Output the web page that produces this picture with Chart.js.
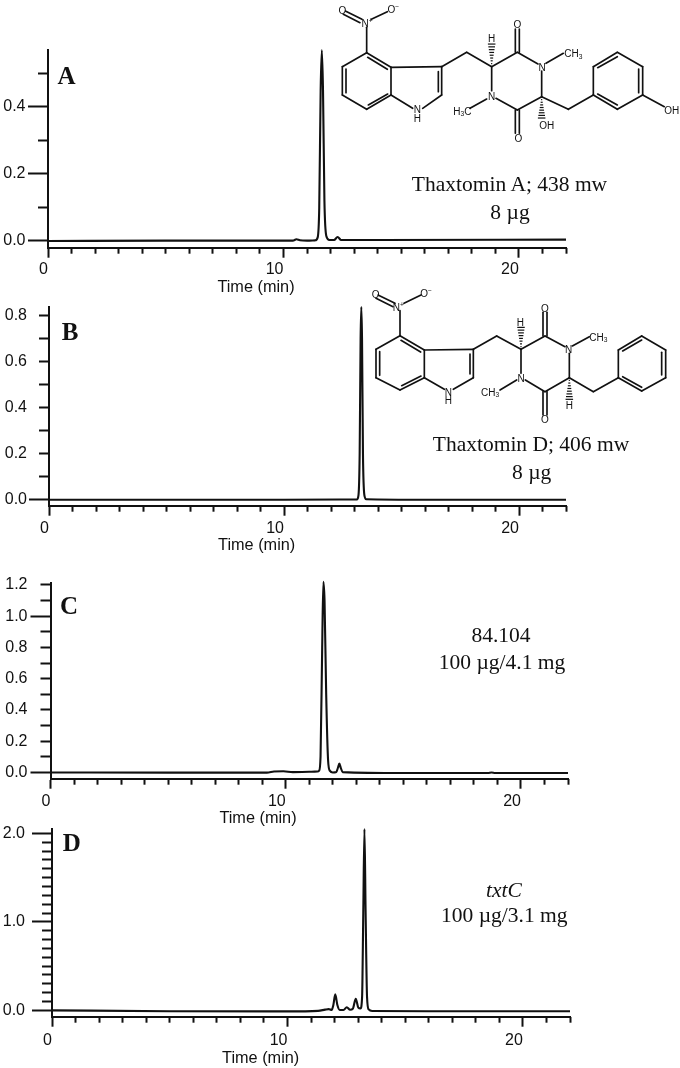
<!DOCTYPE html>
<html>
<head>
<meta charset="utf-8">
<title>Thaxtomin HPLC traces</title>
<script src="https://cdn.jsdelivr.net/npm/chart.js@4/dist/chart.umd.min.js"></script>
<style>
    html, body { margin: 0; padding: 0; background: #fff; overflow: hidden; }
    #page { position: relative; width: 680px; height: 1068px; }
    canvas { position: absolute; left: 0; }
    .note { position: absolute; white-space: nowrap; line-height: 1; color: #111; transform: translate(-50%, -50%); }
    .serif { font-family: "Liberation Serif", serif; font-size: 21.5px; }
    .letter { font-family: "Liberation Serif", serif; font-size: 25px; font-weight: bold; }
    .axisname { font-family: "Liberation Sans", sans-serif; font-size: 16.3px; }
    svg { position: absolute; }
    svg line { stroke: #111; stroke-width: 5; stroke-linecap: round; }
    svg text { font-family: "Liberation Sans", sans-serif; font-size: 30px; fill: #111; text-anchor: middle; dominant-baseline: central; }
</style>
</head>
<body>
<div id="page"></div>
<script>
// Valores: tempo (min) e absorvância
const timeA = [0, 5, 10, 10.4, 10.55, 10.7, 11, 11.35, 11.45, 11.52, 11.58, 11.63, 11.68, 11.74, 11.82, 11.95, 12.15, 12.3, 12.45, 14, 22];
const signalA = [0, 0.001, 0.001, 0.001, 0.005, 0.002, 0.001, 0.002, 0.01, 0.1, 0.45, 0.57, 0.45, 0.12, 0.015, 0.003, 0.003, 0.012, 0.003, 0.003, 0.004];

const timeB = [0, 5, 10, 13.1, 13.17, 13.22, 13.26, 13.29, 13.32, 13.36, 13.42, 13.5, 16, 22];
const signalB = [0, 0, 0, 0.001, 0.02, 0.2, 0.7, 0.836, 0.7, 0.2, 0.02, 0.002, 0, 0];

const timeC = [0, 5, 9.2, 9.5, 9.9, 10.3, 11, 11.35, 11.42, 11.48, 11.55, 11.6, 11.65, 11.72, 11.8, 11.88, 12, 12.15, 12.22, 12.28, 12.34, 12.42, 15, 18.6, 18.75, 18.9, 22];
const signalC = [0, -0.001, -0.001, 0.006, 0.008, 0.002, 0.004, 0.006, 0.012, 0.1, 0.8, 1.22, 1.1, 0.5, 0.08, 0.01, 0, 0.003, 0.03, 0.057, 0.03, 0.002, -0.004, -0.004, 0, -0.004, -0.004];

const timeD = [0, 5, 10, 11.3, 11.6, 11.75, 11.88, 11.95, 12.03, 12.12, 12.22, 12.38, 12.52, 12.66, 12.78, 12.9, 13.01, 13.1, 13.17, 13.22, 13.27, 13.32, 13.38, 13.45, 13.6, 16, 22];
const signalD = [0, -0.01, -0.012, -0.006, 0.008, 0.014, 0.004, 0.06, 0.18, 0.06, 0.004, 0.004, 0.035, 0.006, 0.02, 0.13, 0.03, 0.02, 0.15, 1.1, 2.05, 1.1, 0.15, 0.01, -0.008, -0.01, -0.01];

const xLongTicks = [0, 10, 20];
const xShortTicks = [1, 2, 3, 4, 5, 6, 7, 8, 9, 11, 12, 13, 14, 15, 16, 17, 18, 19, 21, 22];

const yLabelsA = [0, 0.2, 0.4];
const yLongA = [0, 0.2, 0.4];
const yShortA = [0.1, 0.3, 0.5];

const yLabelsB = [0, 0.2, 0.4, 0.6, 0.8];
const yLongB = [0];
const yShortB = [0.1, 0.2, 0.3, 0.4, 0.5, 0.6, 0.7, 0.8];

const yLabelsC = [0, 0.2, 0.4, 0.6, 0.8, 1.0, 1.2];
const yLongC = [0, 1.0];
const yShortC = [0.1, 0.2, 0.3, 0.4, 0.5, 0.6, 0.7, 0.8, 0.9, 1.1, 1.2];

const yLabelsD = [0, 1, 2];
const yLongD = [0, 1, 2];
const yShortD = [0.1, 0.2, 0.3, 0.4, 0.5, 0.6, 0.7, 0.8, 0.9, 1.1, 1.2, 1.3, 1.4, 1.5, 1.6, 1.7, 1.8, 1.9];

const page = document.getElementById('page');
const inkColor = '#111';
const tickFont = { family: '"Liberation Sans", sans-serif', size: 16 };

// Cria um painel: canvas próprio, com a área do gráfico fixada em pixels
function createPanel(cfg) {
    const canvas = document.createElement('canvas');
    canvas.width = 680;
    canvas.height = cfg.canvasHeight;
    canvas.style.top = cfg.canvasTop + 'px';
    page.appendChild(canvas);

    const setTicks = values => scale => { scale.ticks = values.map(v => ({ value: v })); };

    new Chart(canvas.getContext('2d'), {
        type: 'line',
        data: {
            datasets: [{
                data: cfg.time.map((t, i) => ({ x: t, y: cfg.signal[i] })),
                borderColor: inkColor,
                borderWidth: 2.1,
                borderJoinStyle: 'round',
                cubicInterpolationMode: 'monotone',
                pointRadius: 0,
                clip: false
            }]
        },
        options: {
            responsive: false,
            animation: false,
            parsing: false,
            layout: { padding: { left: 0, right: 680 - cfg.right, top: cfg.top - cfg.canvasTop, bottom: 0 } },
            plugins: { legend: { display: false }, tooltip: { enabled: false } },
            scales: {
                x: {
                    type: 'linear', min: 0, max: 22,
                    afterBuildTicks: setTicks(xLongTicks),
                    afterFit: scale => { scale.height = cfg.canvasTop + cfg.canvasHeight - cfg.bottom; },
                    grid: { drawOnChartArea: false, tickLength: 10, tickWidth: 2, tickColor: inkColor },
                    border: { display: true, color: inkColor, width: 2 },
                    // os números ficam alinhados à direita da marca, como no original
                    ticks: { color: inkColor, font: tickFont, padding: cfg.xLabelPad, align: 'end', maxRotation: 0, autoSkip: false, callback: v => String(v) }
                },
                xShort: {
                    type: 'linear', position: 'bottom', axis: 'x', weight: -1, min: 0, max: 22,
                    afterBuildTicks: setTicks(xShortTicks),
                    afterFit: scale => { scale.height = 0; },
                    grid: { drawOnChartArea: false, tickLength: 6, tickWidth: 2, tickColor: inkColor },
                    border: { display: false },
                    ticks: { display: false, autoSkip: false }
                },
                y: {
                    type: 'linear', min: cfg.yMin, max: cfg.yMax,
                    afterBuildTicks: setTicks(cfg.yLabels),
                    afterFit: scale => { scale.width = cfg.left; },
                    grid: {
                        drawOnChartArea: false, tickLength: 20, tickWidth: 2,
                        tickColor: ctx => cfg.yLong.includes(ctx.tick.value) ? inkColor : 'rgba(0,0,0,0)'
                    },
                    border: { display: true, color: inkColor, width: 2 },
                    ticks: { color: inkColor, font: tickFont, padding: cfg.labelGap - 20, autoSkip: false, callback: v => v.toFixed(1) }
                },
                yShort: {
                    type: 'linear', position: 'left', axis: 'y', weight: -1, min: cfg.yMin, max: cfg.yMax,
                    afterBuildTicks: setTicks(cfg.yShort),
                    afterFit: scale => { scale.width = 0; },
                    grid: { drawOnChartArea: false, tickLength: 10, tickWidth: 2, tickColor: inkColor },
                    border: { display: false },
                    ticks: { display: false, autoSkip: false }
                }
            }
        }
    });
}

createPanel({ canvasTop: 30, canvasHeight: 250, left: 48, right: 566, top: 50, bottom: 247.7, yMin: -0.02, yMax: 0.57, time: timeA, signal: signalA, yLabels: yLabelsA, yLong: yLongA, yShort: yShortA, labelGap: 22.5, xLabelPad: 2 });
createPanel({ canvasTop: 295, canvasHeight: 240, left: 49, right: 566, top: 307, bottom: 505.7, yMin: -0.026, yMax: 0.836, time: timeB, signal: signalB, yLabels: yLabelsB, yLong: yLongB, yShort: yShortB, labelGap: 22, xLabelPad: 3 });
createPanel({ canvasTop: 570, canvasHeight: 240, left: 50.5, right: 568, top: 581.7, bottom: 778.7, yMin: -0.04, yMax: 1.215, time: timeC, signal: signalC, yLabels: yLabelsC, yLong: yLongC, yShort: yShortC, labelGap: 23, xLabelPad: 3 });
createPanel({ canvasTop: 812, canvasHeight: 240, left: 52, right: 570, top: 820, bottom: 1016.7, yMin: -0.072, yMax: 2.054, time: timeD, signal: signalD, yLabels: yLabelsD, yLong: yLongD, yShort: yShortD, labelGap: 27, xLabelPad: 4 });

// Textos soltos da figura
function addNote(text, cx, cy, cls, italic) {
    const div = document.createElement('div');
    div.className = 'note ' + cls;
    div.textContent = text;
    div.style.left = cx + 'px';
    div.style.top = cy + 'px';
    if (italic) div.style.fontStyle = 'italic';
    page.appendChild(div);
}

addNote('A', 66.5, 75, 'letter');
addNote('B', 70, 331, 'letter');
addNote('C', 69, 605, 'letter');
addNote('D', 71.7, 842, 'letter');
addNote('Time (min)', 256, 286, 'axisname');
addNote('Time (min)', 256.7, 544, 'axisname');
addNote('Time (min)', 258, 817, 'axisname');
addNote('Time (min)', 260.7, 1056.7, 'axisname');
addNote('Thaxtomin A; 438 mw', 509.5, 185, 'serif');
addNote('8 µg', 510, 213, 'serif');
addNote('Thaxtomin D; 406 mw', 531, 445, 'serif');
addNote('8 µg', 531.7, 473, 'serif');
addNote('84.104', 501, 636, 'serif');
addNote('100 µg/4.1 mg', 502, 662.7, 'serif');
addNote('txtC', 504, 891, 'serif', true);
addNote('100 µg/3.1 mg', 504.3, 916, 'serif');

// Estruturas químicas (coordenadas em unidades de 1/3 de pixel)
function addMolecule(left, top, width, height, bonds, hashes, atoms) {
    const ns = 'http://www.w3.org/2000/svg';
    const svg = document.createElementNS(ns, 'svg');
    svg.setAttribute('viewBox', `0 0 ${width * 3} ${height * 3}`);
    svg.setAttribute('width', width);
    svg.setAttribute('height', height);
    svg.style.left = left + 'px';
    svg.style.top = top + 'px';

    function addLine(x1, y1, x2, y2, w) {
        const l = document.createElementNS(ns, 'line');
        l.setAttribute('x1', x1); l.setAttribute('y1', y1);
        l.setAttribute('x2', x2); l.setAttribute('y2', y2);
        if (w) { l.style.strokeWidth = w; l.style.strokeLinecap = 'butt'; }
        svg.appendChild(l);
    }

    bonds.forEach(b => addLine(b[0], b[1], b[2], b[3]));

    hashes.forEach(h => {
        const dx = h[2] - h[0], dy = h[3] - h[1];
        const len = Math.hypot(dx, dy);
        for (let i = 0; i < 8; i++) {
            const f = (i + 0.5) / 8;
            const half = 1 + 11 * f;
            const cx = h[0] + dx * f, cy = h[1] + dy * f;
            addLine(cx - dy / len * half, cy + dx / len * half, cx + dy / len * half, cy - dx / len * half, 3.6);
        }
    });

    atoms.forEach(a => {
        const t = document.createElementNS(ns, 'text');
        t.setAttribute('x', a[1]);
        t.setAttribute('y', a[2]);
        // a[0]: texto com marcação simples, ^ sobrescrito e _ subscrito
        const parts = a[0].split(/([_^].)/);
        let shifted = false;
        parts.forEach(p => {
            if (!p) return;
            const s = document.createElementNS(ns, 'tspan');
            if (p[0] === '_' || p[0] === '^') {
                s.textContent = p[1];
                s.setAttribute('font-size', '20');
                s.setAttribute('dy', p[0] === '_' ? '7' : '-9');
                shifted = p[0];
            } else {
                s.textContent = p;
                if (shifted) { s.setAttribute('dy', shifted === '_' ? '-7' : '9'); shifted = false; }
            }
            t.appendChild(s);
        });
        svg.appendChild(t);
    });
    page.appendChild(svg);
}

const bondsThaxtominA = [
    [110, 158, 183, 202], [183, 202, 183, 285], [183, 285, 110, 328], [110, 328, 37, 285], [37, 285, 37, 200], [37, 200, 110, 158],
    [113, 172, 172, 208], [48, 207, 48, 278], [115, 315, 173, 282],
    [183, 202, 335, 200], [335, 200, 335, 285], [325, 215, 325, 275], [183, 285, 248, 325], [278, 325, 335, 285],
    [110, 158, 110, 82], [96, 58, 46, 33], [90, 68, 40, 43], [124, 58, 172, 35],
    [335, 200, 410, 157], [410, 157, 485, 200],
    [485, 200, 562, 157], [562, 157, 624, 192], [635, 213, 635, 290], [635, 290, 562, 330], [562, 330, 498, 295], [485, 272, 485, 200],
    [556, 157, 556, 87], [568, 157, 568, 87], [556, 330, 556, 400], [568, 330, 568, 400],
    [648, 190, 700, 160], [470, 297, 420, 325],
    [635, 290, 715, 328], [715, 328, 790, 285],
    [790, 285, 790, 200], [790, 200, 862, 157], [862, 157, 938, 200], [938, 200, 938, 285], [938, 285, 862, 328], [862, 328, 790, 285],
    [803, 203, 862, 170], [926, 207, 926, 278], [803, 282, 862, 315],
    [938, 285, 1003, 320]
];
const hashesThaxtominA = [[485, 195, 485, 128], [635, 295, 635, 358]];
const atomsThaxtominA = [
    ['O', 37, 30], ['N^+', 111, 68], ['O^−', 190, 28], ['N', 262, 328], ['H', 262, 355],
    ['H', 485, 115], ['O', 562, 72], ['N', 636, 200], ['CH_3', 730, 160], ['N', 485, 288],
    ['H_3C', 397, 333], ['O', 565, 415], ['OH', 650, 375], ['OH', 1025, 330]
];

const bondsThaxtominD = [
    [180, 167, 253, 210], [253, 210, 253, 293], [253, 293, 180, 330], [180, 330, 108, 293], [108, 293, 108, 208], [108, 208, 180, 167],
    [183, 181, 242, 216], [119, 215, 119, 286], [185, 317, 243, 288],
    [253, 210, 400, 208], [400, 208, 400, 293], [390, 222, 390, 282], [253, 293, 313, 328], [340, 328, 400, 293],
    [180, 167, 180, 92], [165, 70, 114, 45], [159, 80, 108, 55], [192, 70, 243, 45],
    [400, 208, 470, 168], [470, 168, 543, 208],
    [543, 208, 615, 168], [615, 168, 675, 200], [688, 220, 688, 293], [688, 293, 615, 335], [615, 335, 556, 300], [543, 280, 543, 208],
    [609, 168, 609, 97], [621, 168, 621, 97], [609, 335, 609, 405], [621, 335, 621, 405],
    [697, 198, 748, 170], [530, 300, 480, 330],
    [688, 293, 760, 335], [760, 335, 835, 293],
    [835, 293, 835, 210], [835, 210, 905, 168], [905, 168, 977, 210], [977, 210, 977, 293], [977, 293, 905, 333], [905, 333, 835, 293],
    [848, 213, 905, 180], [965, 217, 965, 285], [848, 290, 905, 322]
];
const hashesThaxtominD = [[543, 204, 543, 138], [688, 297, 688, 362]];
const atomsThaxtominD = [
    ['O', 107, 42], ['N^+', 175, 80], ['O^−', 258, 40], ['N', 325, 335], ['H', 325, 360],
    ['H', 541, 125], ['O', 615, 84], ['N', 686, 208], ['CH_3', 775, 170], ['N', 543, 293],
    ['CH_3', 450, 335], ['O', 615, 418], ['H', 688, 375]
];

addMolecule(330, 0, 350, 150, bondsThaxtominA, hashesThaxtominA, atomsThaxtominA);
addMolecule(340, 280, 340, 150, bondsThaxtominD, hashesThaxtominD, atomsThaxtominD);
</script>
</body>
</html>
